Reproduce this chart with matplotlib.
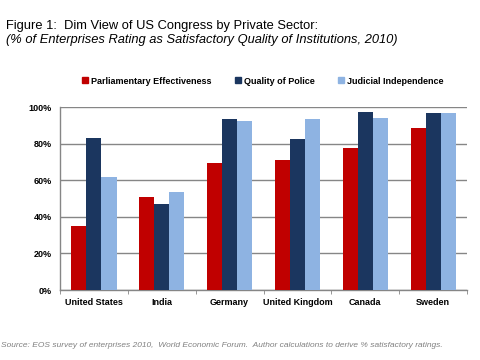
import matplotlib
matplotlib.use("Agg")
import matplotlib.pyplot as plt
import numpy as np
from matplotlib.patches import Patch

countries = ["United States", "India", "Germany", "United Kingdom", "Canada", "Sweden"]
series_names = ["Parliamentary Effectiveness", "Quality of Police", "Judicial Independence"]
parliamentary = [35.0, 50.9, 69.5, 71.2, 77.7, 88.7]
police = [83.2, 47.1, 93.6, 82.6, 97.4, 96.9]
judicial = [61.7, 53.6, 92.5, 93.6, 94.1, 96.9]
yticks = [0, 20, 40, 60, 80, 100]
ytick_labels = ["0%", "20%", "40%", "60%", "80%", "100%"]
colors = ["#C00000", "#1B365F", "#8EB3E2"]

plt.rcParams['font.family'] = ['Liberation Sans', 'DejaVu Sans']

fig = plt.figure(figsize=(4.8, 3.6), dpi=100)
ax = fig.add_axes([0.125, 0.1944, 0.848, 0.5076])

x = np.arange(len(countries))
w = 0.222
for i, (vals, c) in enumerate(zip([parliamentary, police, judicial], colors)):
    ax.bar(x + (i - 1) * w, vals, width=w, color=c, zorder=3)

ax.set_xlim(-0.5, len(countries) - 0.5)
ax.set_ylim(0, 100)
ax.set_yticks(yticks)
ax.set_yticklabels(ytick_labels, fontsize=6.5, fontweight='bold')
ax.yaxis.grid(True, color="#868686", linewidth=1, zorder=0)
ax.set_axisbelow(True)
ax.tick_params(axis='y', length=0, pad=6)

ax.set_xticks(x)
ax.set_xticklabels(countries, fontsize=6.5, fontweight='bold')
ax.tick_params(axis='x', length=0, pad=6)
ax.set_xticks(np.arange(len(countries) + 1) - 0.5, minor=True)
ax.tick_params(axis='x', which='minor', length=3, color="#868686", direction='out')

for s in ['top', 'right']:
    ax.spines[s].set_visible(False)
for s in ['left', 'bottom']:
    ax.spines[s].set_color("#868686")
    ax.spines[s].set_linewidth(1)

handles = [Patch(color=c, label=n) for c, n in zip(colors, series_names)]
fig.legend(handles=handles, loc='center', bbox_to_anchor=(0.548, 0.775), ncol=3,
           frameon=False, prop={'size': 6.5, 'weight': 'bold'}, handlelength=0.6,
           handleheight=0.6, handletextpad=0.4, columnspacing=2.6)

fig.text(0.0125, 0.928, "Figure 1:  Dim View of US Congress by Private Sector:", fontsize=9.3, va='center', ha='left')
fig.text(0.0125, 0.888, "(% of Enterprises Rating as Satisfactory Quality of Institutions, 2010)", fontsize=9.3,
         style='italic', va='center', ha='left')
fig.text(0.003, 0.039,
         "Source: EOS survey of enterprises 2010,  World Economic Forum.  Author calculations to derive % satisfactory ratings.",
         fontsize=6.0, style='italic', color="#808080", va='center', ha='left')

fig.savefig("out.png", dpi=100)
